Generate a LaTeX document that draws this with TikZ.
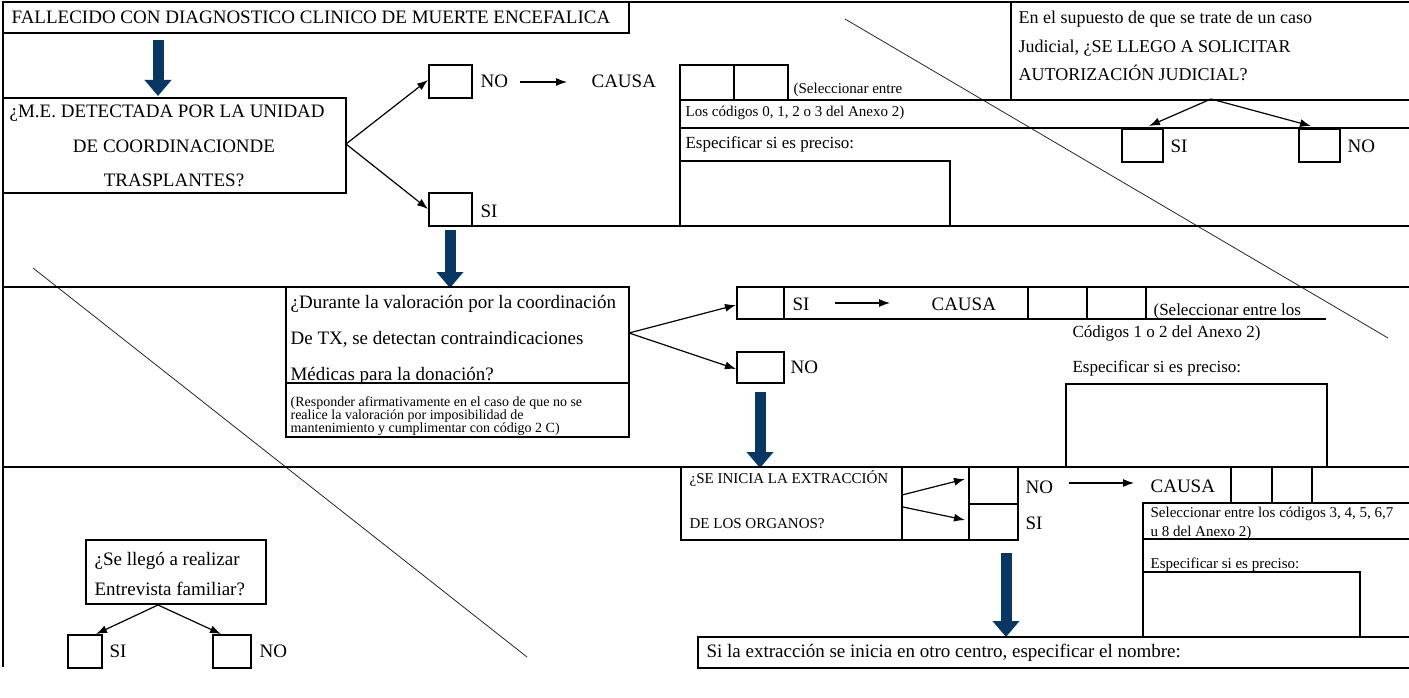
\documentclass[tikz,border=0pt]{standalone}
\usepackage{fontspec}
\setmainfont{Liberation Serif}
\usetikzlibrary{arrows.meta}
\definecolor{navyarrow}{RGB}{8,55,100}

\begin{document}
\begin{tikzpicture}[x=1pt, y=-1pt, line width=1.2pt, >={Latex[length=11pt, width=8pt]},
  lbl/.style={anchor=base west, inner sep=0pt},
  big/.style={lbl, font=\fontsize{19}{19}\selectfont},
  judl/.style={lbl, font=\fontsize{18}{18}\selectfont},
  mid/.style={lbl, font=\fontsize{17}{17}\selectfont},
  sml/.style={lbl, font=\fontsize{15}{15}\selectfont},
  tiny/.style={lbl, font=\fontsize{14}{14}\selectfont},
  bluearrow/.style={navyarrow, line width=11pt, -{Triangle[length=16pt, width=26pt]}},
  diag/.style={line width=0.8pt, black!85}]
  \useasboundingbox (0,0) rectangle (1409,698);

  % outer frame
  \draw (3,667) -- (3,2) -- (1409,2);
  \draw[diag] (845,19) -- (1388,338);
  \draw[diag] (33,268) -- (527,657);

  % row 1: muerte encefalica
  \draw (3,2) rectangle (629,33);
  \node[big] (fallecido) at (11,24) {FALLECIDO CON DIAGNOSTICO CLINICO DE MUERTE ENCEFALICA};
  \coordinate (b1s) at (158,40); \coordinate (b1e) at (158,96);
  \draw[bluearrow] (b1s) -- (b1e);
  \draw (3,98) rectangle (346,193);
  \node[big] (me1) at (9,118) {¿M.E. DETECTADA POR LA UNIDAD};
  \node[big, anchor=base] (me2) at (174,153) {DE COORDINACIONDE};
  \node[big, anchor=base] (me3) at (174,186) {TRASPLANTES?};
  \coordinate (meR) at (346,144);
  \draw (429,65) rectangle (472,98);
  \draw (429,193) rectangle (472,226);
  \coordinate (meNo) at (428,80); \coordinate (meSi) at (428,209);
  \draw[->] (meR) -- (meNo);
  \draw[->] (meR) -- (meSi);
  \node[big] (no1) at (480,88) {NO};
  \node[big] (si1) at (480,218) {SI};
  \node[big] (causa1) at (591,88) {CAUSA};
  \coordinate (c1s) at (520,82); \coordinate (c1e) at (567,82);
  \draw[->] (c1s) -- (c1e);
  \draw (680,226) -- (680,65) -- (788,65) -- (788,100);
  \draw (734,65) -- (734,100);
  \draw (680,100) -- (1409,100);
  \draw (680,128) -- (1409,128);
  \draw (680,161) rectangle (950,226);
  \draw (429,226) -- (1409,226);
  \node[sml] (sel1) at (793,94) {(Seleccionar entre};
  \node[sml] (cod1) at (685,117) {Los códigos 0, 1, 2 o 3 del Anexo 2)};
  \node[mid] (esp1) at (685,149) {Especificar si es preciso:};

  % judicial
  \draw (1011,2) -- (1011,100);
  \node[judl] (jud1) at (1018,24) {En el supuesto de que se trate de un caso};
  \node[judl] (jud2) at (1018,53) {Judicial, ¿SE LLEGO A SOLICITAR};
  \node[judl] (jud3) at (1018,81) {AUTORIZACIÓN JUDICIAL?};
  \coordinate (judB) at (1211,99);
  \coordinate (judSi) at (1149,126); \coordinate (judNo) at (1311,126);
  \draw[->] (judB) -- (judSi);
  \draw[->] (judB) -- (judNo);
  \draw (1122,129) rectangle (1163,162);
  \draw (1299,129) rectangle (1340,162);
  \node[big] (si2) at (1170,153) {SI};
  \node[big] (no2) at (1347,153) {NO};

  % row 2: valoracion
  \coordinate (b2s) at (450,230); \coordinate (b2e) at (450,288);
  \draw[bluearrow] (b2s) -- (b2e);
  \draw (3,287) -- (286,287);
  \draw (286,287) rectangle (629,437);
  \draw (286,383) -- (629,383);
  \node[big] (dur1) at (290,308) {¿Durante la valoración por la coordinación};
  \node[big] (dur2) at (290,344) {De TX, se detectan contraindicaciones};
  \node[big] (dur3) at (290,380) {Médicas para la donación?};
  \node[tiny] (resp1) at (290,406) {(Responder afirmativamente en el caso de que no se};
  \node[tiny] (resp2) at (290,419) {realice la valoración por imposibilidad de};
  \node[tiny] (resp3) at (290,432) {mantenimiento y cumplimentar con código 2 C)};
  \coordinate (durR) at (629,333);
  \coordinate (durSi) at (736,305); \coordinate (durNo) at (736,369);
  \draw[->] (durR) -- (durSi);
  \draw[->] (durR) -- (durNo);
  \draw (1409,287) -- (737,287) -- (737,319) -- (1326,319);
  \foreach \xx in {784,1028,1087,1146} \draw (\xx,287) -- (\xx,319);
  \draw (737,352) rectangle (784,383);
  \node[big] (si3) at (792,310) {SI};
  \node[big] (no3) at (790,373) {NO};
  \node[big] (causa2) at (931,310) {CAUSA};
  \coordinate (c2s) at (835,303); \coordinate (c2e) at (890,303);
  \draw[->] (c2s) -- (c2e);
  \node[mid] (sel2) at (1153,315) {(Seleccionar entre los};
  \node[mid] (cod2) at (1072,337) {Códigos 1 o 2 del Anexo 2)};
  \node[mid] (esp2) at (1072,372) {Especificar si es preciso:};
  \draw (1066,384) rectangle (1327,467);
  \coordinate (b3s) at (760,392); \coordinate (b3e) at (760,468);
  \draw[bluearrow] (b3s) -- (b3e);
  \draw (3,467) -- (1409,467);

  % row 3: extraccion
  \draw (681,467) rectangle (1018,540);
  \draw (902,467) -- (902,540);
  \draw (969,467) -- (969,540);
  \draw (969,504) -- (1018,504);
  \node[sml] (ext1) at (689,483) {¿SE INICIA LA EXTRACCIÓN};
  \node[sml] (ext2) at (689,528) {DE LOS ORGANOS?};
  \coordinate (extA) at (902,495); \coordinate (extB) at (903,507);
  \coordinate (extNo) at (965,479); \coordinate (extSi) at (965,520);
  \draw[->] (extA) -- (extNo);
  \draw[->] (extB) -- (extSi);
  \node[big] (no4) at (1025,493) {NO};
  \node[big] (si4) at (1025,529) {SI};
  \coordinate (c3s) at (1069,483); \coordinate (c3e) at (1134,483);
  \draw[->] (c3s) -- (c3e);
  \node[big] (causa3) at (1150,492) {CAUSA};
  \foreach \xx in {1231,1272,1312} \draw (\xx,467) -- (\xx,503);
  \draw (1409,503) -- (1143,503) -- (1143,637);
  \draw (1143,539) -- (1409,539);
  \draw (1143,572) rectangle (1360,637);
  \node[sml] (sel3) at (1150,517) {Seleccionar entre los códigos 3, 4, 5, 6,7};
  \node[sml] (sel3b) at (1150,536) {u 8 del Anexo 2)};
  \node[sml] (esp3) at (1150,568) {Especificar si es preciso:};
  \coordinate (b4s) at (1006,553); \coordinate (b4e) at (1006,637);
  \draw[bluearrow] (b4s) -- (b4e);
  \draw (1409,637) -- (698,637) -- (698,668) -- (1409,668);
  \node[big] (otro) at (706,657) {Si la extracción se inicia en otro centro, especificar el nombre:};

  % entrevista familiar
  \draw (86,540) rectangle (266,604);
  \node[big] (fam1) at (94,565) {¿Se llegó a realizar};
  \node[big] (fam2) at (94,595) {Entrevista familiar?};
  \coordinate (famB) at (158,605);
  \coordinate (famSi) at (96,634); \coordinate (famNo) at (221,634);
  \draw[->] (famB) -- (famSi);
  \draw[->] (famB) -- (famNo);
  \draw (68,635) rectangle (102,668);
  \draw (213,635) rectangle (251,668);
  \node[big] (si5) at (109,657) {SI};
  \node[big] (no5) at (259,657) {NO};
\end{tikzpicture}
\end{document}
